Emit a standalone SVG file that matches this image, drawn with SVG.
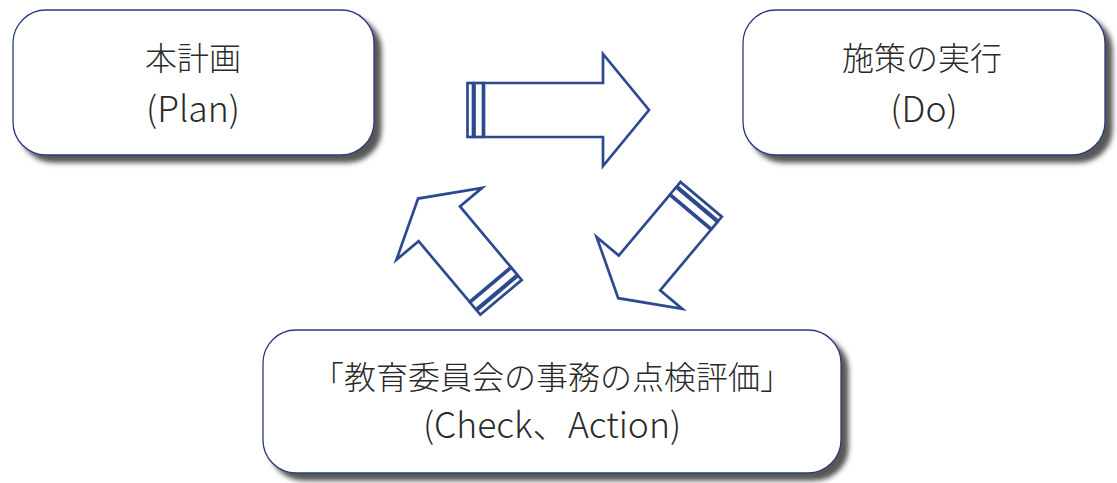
<svg xmlns="http://www.w3.org/2000/svg" width="1117" height="483" viewBox="0 0 1117 483">
  <defs>
    <filter id="shadow" x="-10%" y="-20%" width="125%" height="150%">
      <feDropShadow dx="7" dy="7" stdDeviation="2.5" flood-color="#3a3a3a" flood-opacity="0.85"/>
    </filter>
    <g id="diagArrow">
      <rect class="arr" x="0" y="0" width="5.5" height="54"/>
      <rect class="arr" x="7" y="0" width="9" height="54"/>
      <polygon class="arr" points="17,0 96,0 96,-29 129,27 96,83 96,54 17,54"/>
    </g>
  </defs>
  <style>
    .box { fill: #ffffff; stroke: #2b3b80; stroke-width: 1.3; }
    .label { font-family: "Noto Sans CJK JP", "Noto Sans", sans-serif; font-weight: 300; font-size: 32px; fill: #2a2a2a; text-anchor: middle; }
    .latin { font-size: 35.5px; }
    .arr { fill: #ffffff; stroke: #2e4a8f; stroke-width: 2.7; stroke-linejoin: miter; }
  </style>
  <rect width="1117" height="483" fill="#ffffff"/>

  <g id="node-plan">
    <rect class="box" x="13" y="10" width="361" height="145" rx="33" filter="url(#shadow)"/>
    <text class="label" x="193" y="70">本計画</text>
    <text class="label latin" x="193" y="122">(Plan)</text>
  </g>

  <g id="node-do">
    <rect class="box" x="743" y="10" width="362" height="145" rx="33" filter="url(#shadow)"/>
    <text class="label" x="922" y="70">施策の実行</text>
    <text class="label latin" x="924" y="122">(Do)</text>
  </g>

  <g id="node-check">
    <rect class="box" x="263" y="330" width="578" height="143" rx="33" filter="url(#shadow)"/>
    <text class="label" x="552" y="389">「教育委員会の事務の点検評価」</text>
    <text class="label latin" x="552" y="438">(Check、Action)</text>
  </g>

  <g id="connectors">
    <g id="arrow-plan-do">
      <rect class="arr" x="467.5" y="83" width="5.5" height="54"/>
      <rect class="arr" x="474.5" y="83" width="8.5" height="54"/>
      <polygon class="arr" points="484,83 603,83 603,54 649,110 603,166 603,137 484,137"/>
    </g>
    <use id="arrow-do-check" href="#diagArrow" transform="matrix(-0.643,0.766,0.766,0.643,680.5,182)"/>
    <use id="arrow-check-plan" href="#diagArrow" transform="matrix(-0.643,-0.766,-0.766,0.643,521.7,280)"/>
  </g>
</svg>
